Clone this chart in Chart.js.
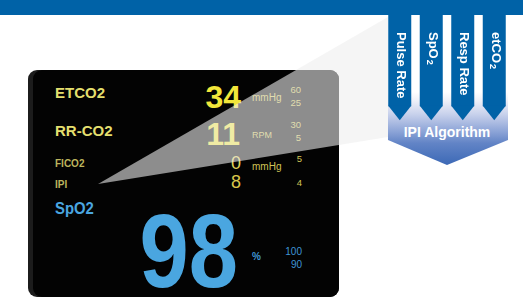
<!DOCTYPE html>
<html>
<head>
<meta charset="utf-8">
<script src="https://cdn.jsdelivr.net/npm/chart.js@4.4.0/dist/chart.umd.min.js"></script>
<style>
  html,body{margin:0;padding:0;background:#fff;width:523px;height:298px;overflow:hidden;}
  #art{position:absolute;left:0;top:0;}
  #badge{position:absolute;left:384px;top:15px;width:126px;height:124px;}
  text{font-family:'Liberation Sans',Arial,Helvetica,sans-serif;}
</style>
</head>
<body>
<script>
// ---- data ----
const categories = ['Pulse Rate', 'SpO₂', 'Resp Rate', 'etCO₂'];   // IPI inputs
const inputWeights = [1, 1, 1, 1];                                 // equal inputs
const readoutLabels = ['ETCO2', 'RR-CO2', 'FICO2', 'IPI', 'SpO2'];
const readoutValues = ['34', '11', '0', '8', '98'];
const readoutUnits  = ['mmHg', 'RPM', 'mmHg', '', '%'];
const alarmHigh     = ['60', '30', '5', '4', '100'];
const alarmLow      = ['25', '5', '', '', '90'];
const algorithmTitle = 'IPI Algorithm';
</script>

<svg id="art" width="523" height="298" xmlns="http://www.w3.org/2000/svg">
  <defs>
    <linearGradient id="pg" x1="0" y1="92" x2="0" y2="165" gradientUnits="userSpaceOnUse">
      <stop offset="0" stop-color="#ffffff"/>
      <stop offset="0.12" stop-color="#eef0f8"/>
      <stop offset="0.3" stop-color="#c9d2ec"/>
      <stop offset="0.55" stop-color="#8aa2d6"/>
      <stop offset="0.7" stop-color="#6284c6"/>
      <stop offset="1" stop-color="#3c69b6"/>
    </linearGradient>
  </defs>
  <rect x="0" y="0" width="523" height="15" fill="#0062a7"/>
  <!-- monitor -->
  <rect x="28" y="70" width="311" height="227" rx="9" fill="#1c1c1c"/>
  <rect x="33" y="70" width="306" height="227" rx="9" fill="#030303"/>
  <g id="readouts"></g>
  <!-- translucent wedge -->
  <polygon points="98,184 388,17 388,137" fill="rgb(238,238,238)" fill-opacity="0.59"/>
  <!-- pentagon -->
  <polygon points="388,92 508,92 508,140 447,165 388,140" fill="url(#pg)"/>
  <text id="algo" x="447" y="137" text-anchor="middle" font-weight="bold" font-size="14" fill="#ffffff"></text>
</svg>

<div id="badge"><canvas id="c" width="126" height="124"></canvas></div>

<script>
const NS = 'http://www.w3.org/2000/svg';
const g = document.getElementById('readouts');
function t(str, x, y, opts) {
  const e = document.createElementNS(NS, 'text');
  e.setAttribute('x', x); e.setAttribute('y', y);
  e.setAttribute('font-size', opts.size);
  e.setAttribute('fill', opts.color);
  if (opts.bold) e.setAttribute('font-weight', 'bold');
  if (opts.anchor) e.setAttribute('text-anchor', opts.anchor);
  if (opts.transform) e.setAttribute('transform', opts.transform);
  e.textContent = str;
  g.appendChild(e);
  return e;
}
const YL = '#e4df6e', YB = '#f2e63a', YS = '#cfc456', YM = '#bdb55e', BL = '#4aa6e0', BS = '#3f95d4';
// labels
t(readoutLabels[0], 55, 98,  {size: 15, bold: true, color: YL});
t(readoutLabels[1], 55, 136, {size: 15, bold: true, color: YL});
t(readoutLabels[2], 55, 167, {size: 10, bold: true, color: YM});
t(readoutLabels[3], 55, 188, {size: 10, bold: true, color: YM});
t(readoutLabels[4], 0, 0, {size: 16, bold: true, color: BL, transform: 'translate(55,214) scale(0.93,1)'});
// values
t(readoutValues[0], 241, 108, {size: 32, bold: true, color: YB, anchor: 'end'});
t(readoutValues[1], 240, 145, {size: 32, bold: true, color: YB, anchor: 'end'});
t(readoutValues[2], 241, 169, {size: 18, color: '#e0d458', anchor: 'end'});
t(readoutValues[3], 241, 188, {size: 18, color: '#d9c64a', anchor: 'end'});
t(readoutValues[4], 0, 0, {size: 103, bold: true, color: BL, anchor: 'end', transform: 'translate(238,287) scale(0.86,1)'});
// units
t(readoutUnits[0], 252, 101, {size: 10, color: YS});
t(readoutUnits[1], 252, 138, {size: 9, color: YS});
t(readoutUnits[2], 252, 170, {size: 10, color: YS});
t(readoutUnits[4], 252, 260, {size: 10, bold: true, color: BS});
// alarm limits
t(alarmHigh[0], 301, 93,  {size: 9.5, color: YS, anchor: 'end'});
t(alarmLow[0],  301, 106, {size: 9.5, color: YS, anchor: 'end'});
t(alarmHigh[1], 301, 128, {size: 9.5, color: YS, anchor: 'end'});
t(alarmLow[1],  301, 141, {size: 9.5, color: YS, anchor: 'end'});
t(alarmHigh[2], 302, 162, {size: 9.5, color: YS, anchor: 'end'});
t(alarmHigh[3], 302, 186, {size: 9.5, color: YS, anchor: 'end'});
t(alarmHigh[4], 302, 255, {size: 10, color: BS, anchor: 'end'});
t(alarmLow[4],  302, 268, {size: 10, color: BS, anchor: 'end'});
document.getElementById('algo').textContent = algorithmTitle;

// ---- Chart.js: the four input columns ----
const BLUE = '#0062a7';
const arrowPlugin = {
  id: 'arrowTips',
  afterDatasetsDraw(chart) {
    const ctx = chart.ctx;
    const meta = chart.getDatasetMeta(0);
    meta.data.forEach((bar, i) => {
      const p = bar.getProps(['x', 'y', 'width'], true);
      const half = p.width / 2;
      // pointed tip
      ctx.save();
      ctx.fillStyle = BLUE;
      ctx.beginPath();
      ctx.moveTo(p.x - half, p.y - 0.5);
      ctx.lineTo(p.x + half, p.y - 0.5);
      ctx.lineTo(p.x, p.y + 14);
      ctx.closePath();
      ctx.fill();
      ctx.restore();
      // rotated label
      const label = categories[i];
      ctx.save();
      ctx.translate(p.x + 1, 17);
      ctx.rotate(Math.PI / 2);
      ctx.fillStyle = '#ffffff';
      ctx.textBaseline = 'middle';
      ctx.textAlign = 'left';
      let cx = 0;
      for (const ch of label) {
        if (ch === '₂') {
          ctx.font = 'bold 9px "Liberation Sans", Arial, sans-serif';
          ctx.fillText('2', cx + 1, 2.5);
          cx += ctx.measureText('2').width + 1;
        } else {
          ctx.font = 'bold 13px "Liberation Sans", Arial, sans-serif';
          ctx.fillText(ch, cx, 0);
          cx += ctx.measureText(ch).width;
        }
      }
      ctx.restore();
    });
  }
};

new Chart(document.getElementById('c'), {
  type: 'bar',
  data: {
    labels: categories,
    datasets: [{
      data: inputWeights,
      backgroundColor: BLUE,
      borderWidth: 0,
      barPercentage: 23 / 31.5,
      categoryPercentage: 1
    }]
  },
  options: {
    responsive: false,
    animation: false,
    devicePixelRatio: 1,
    layout: { padding: 0 },
    plugins: { legend: { display: false }, tooltip: { enabled: false } },
    scales: {
      x: { display: false },
      y: { display: false, min: 0, max: 1.36, reverse: true }
    }
  },
  plugins: [arrowPlugin]
});
</script>
</body>
</html>
